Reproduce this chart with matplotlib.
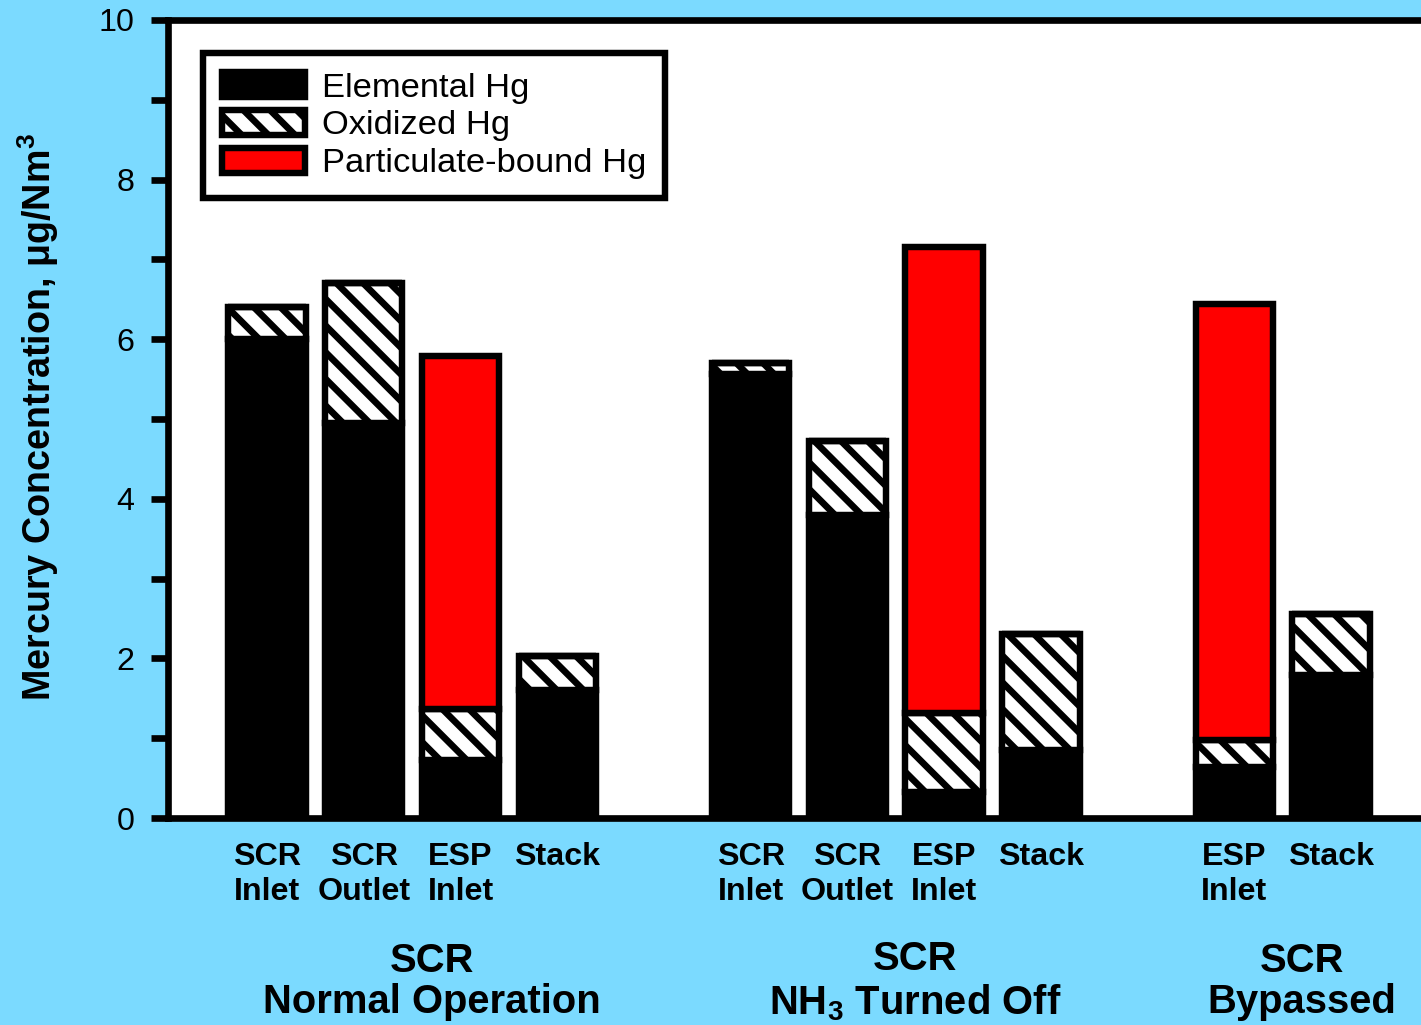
import matplotlib
matplotlib.use("Agg")
import matplotlib.pyplot as plt
from matplotlib.patches import Patch
from matplotlib.transforms import blended_transform_factory

plt.rcParams['font.family'] = ['Liberation Sans', 'DejaVu Sans']
plt.rcParams['mathtext.fontset'] = 'custom'
plt.rcParams['mathtext.rm'] = 'Liberation Sans:bold'
plt.rcParams['mathtext.bf'] = 'Liberation Sans:bold'
plt.rcParams['hatch.linewidth'] = 3.0

# datos (ug/Nm3)
grupos = ["SCR\nNormal Operation", "SCR\nNH$_3$ Turned Off", "SCR\nBypassed"]
barras_por_grupo = [4, 4, 2]
etiquetas = ["SCR\nInlet", "SCR\nOutlet", "ESP\nInlet", "Stack",
             "SCR\nInlet", "SCR\nOutlet", "ESP\nInlet", "Stack",
             "ESP\nInlet", "Stack"]
elemental = [6.0, 4.95, 0.73, 1.6, 5.56, 3.8, 0.33, 0.85, 0.64, 1.79]
oxidado = [0.4, 1.75, 0.64, 0.43, 0.14, 0.92, 0.99, 1.46, 0.34, 0.77]
particulado = [0, 0, 4.42, 0, 0, 0, 5.83, 0, 5.46, 0]

fondo = '#7BDAFF'
lw = 2.9
rayado = '\\\\'

# posiciones: un hueco de una barra entre grupos
xpos = []
centros = []
inicio = 0
for n in barras_por_grupo:
    xs = list(range(inicio, inicio + n))
    xpos += xs
    centros.append((xs[0] + xs[-1]) / 2)
    inicio += n + 1

fig = plt.figure(figsize=(1421 / 160, 1025 / 160), dpi=160)
fig.patch.set_facecolor(fondo)
ax = fig.add_axes([168 / 1421, 207 / 1025, 1253 / 1421, 798 / 1025])

base2 = [e + o for e, o in zip(elemental, oxidado)]
ax.bar(xpos, elemental, width=0.8, color='black', edgecolor='black', linewidth=lw)
ax.bar(xpos, oxidado, width=0.8, bottom=elemental, facecolor='white',
       edgecolor='black', hatch=rayado, linewidth=lw)
ax.bar(xpos, particulado, width=0.8, bottom=base2, facecolor='red',
       edgecolor='black', linewidth=lw)

ax.set_xlim(-1.024, 11.93)
ax.set_ylim(0, 10)
ax.set_yticks([0, 2, 4, 6, 8, 10])
ax.set_yticks([1, 3, 5, 7, 9], minor=True)
ax.tick_params(axis='y', which='both', direction='out', length=7.6, width=3,
               labelsize=14.5, pad=7.5)
ax.set_xticks(xpos)
ax.set_xticklabels(etiquetas, fontsize=14.5, fontweight='bold', linespacing=1.2)
ax.tick_params(axis='x', length=0, pad=11)
for s in ['left', 'bottom', 'top']:
    ax.spines[s].set_linewidth(3)
ax.spines['right'].set_visible(False)

trans = blended_transform_factory(ax.transData, ax.transAxes)
for c, g in zip(centros, grupos):
    ax.text(c + 0.2, -0.205, g, transform=trans, ha='center', va='center',
            fontsize=18, fontweight='bold', linespacing=1.12)

fig.text(38 / 1421, 1 - 417 / 1025, r"Mercury Concentration, μg/Nm$^3$",
         rotation=90, ha='center', va='center', fontsize=17, fontweight='bold')

manejadores = [
    Patch(facecolor='black', edgecolor='black', linewidth=lw, label='Elemental Hg'),
    Patch(facecolor='white', edgecolor='black', hatch=rayado, linewidth=lw, label='Oxidized Hg'),
    Patch(facecolor='red', edgecolor='black', linewidth=lw, label='Particulate-bound Hg'),
]
leg = ax.legend(handles=manejadores, loc='upper left', bbox_to_anchor=(0.028, 0.9587),
                borderaxespad=0, fontsize=15.5, handlelength=2.4, handleheight=0.75,
                handletextpad=0.5, labelspacing=0.18, borderpad=0.55,
                fancybox=False, framealpha=1, edgecolor='black')
leg.get_frame().set_linewidth(lw)

fig.savefig('out.png', dpi=160, facecolor=fondo)
